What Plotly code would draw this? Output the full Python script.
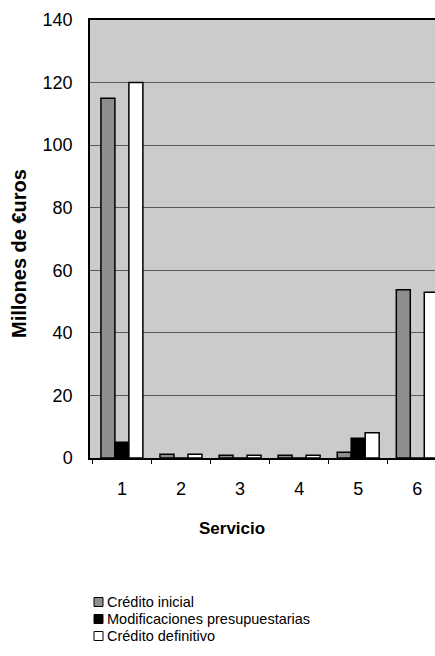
import plotly.graph_objects as go

categories = ["1", "2", "3", "4", "5", "6"]
credito_inicial = [115.0, 1.2, 0.9, 0.9, 1.8, 53.8]
modificaciones = [5.0, 0.0, 0.0, 0.0, 6.3, -0.8]
credito_definitivo = [120.0, 1.2, 0.9, 0.9, 8.1, 53.0]
series_names = ["Crédito inicial", "Modificaciones presupuestarias", "Crédito definitivo"]
y_ticks = [0, 20, 40, 60, 80, 100, 120, 140]

W, H = 435, 656
L, T, B = 90, 20, 198
PW = W - L
PH = H - T - B
FONT = "Arial, Liberation Sans, sans-serif"

fills = ["#8e8e8e", "#000000", "#ffffff"]
series = [credito_inicial, modificaciones, credito_definitivo]

fig = go.Figure()
for name, vals, col in zip(series_names, series, fills):
    fig.add_trace(go.Bar(
        x=categories, y=vals, name=name,
        marker=dict(color=col, line=dict(color="#000000", width=1.5)),
        showlegend=False, hoverinfo="skip",
    ))

def px_x(px):
    return (px - L) / PW

def px_y(py):
    return (H - B - py) / PH

shapes = []
annotations = []
leg_y = [602, 619, 636]
for name, col, yy in zip(series_names, fills, leg_y):
    shapes.append(dict(type="rect", xref="paper", yref="paper",
                       x0=px_x(94), x1=px_x(103), y0=px_y(yy + 4.5), y1=px_y(yy - 4.5),
                       fillcolor=col, line=dict(color="#000000", width=1)))
    annotations.append(dict(text=name, xref="paper", yref="paper",
                            x=px_x(105), y=px_y(yy), xanchor="left", yanchor="middle",
                            showarrow=False, font=dict(family=FONT, size=14.5, color="#000000")))

annotations.append(dict(text="<b>Millones de €uros</b>", xref="paper", yref="paper",
                        x=px_x(19), y=px_y(254), xanchor="center", yanchor="middle",
                        textangle=-90, showarrow=False,
                        font=dict(family=FONT, size=20, color="#000000")))
annotations.append(dict(text="<b>Servicio</b>", xref="paper", yref="paper",
                        x=px_x(232), y=px_y(528), xanchor="center", yanchor="middle",
                        showarrow=False,
                        font=dict(family=FONT, size=17, color="#000000")))

fig.update_layout(
    width=W, height=H,
    margin=dict(l=L, r=0, t=T, b=B, autoexpand=False),
    paper_bgcolor="#ffffff",
    plot_bgcolor="#cbcbcb",
    barmode="group", bargap=0.29, bargroupgap=0,
    showlegend=False,
    hovermode=False,
    shapes=shapes,
    annotations=annotations,
    font=dict(family=FONT, size=18, color="#000000"),
    xaxis=dict(
        type="category", range=[-0.54, 5.3],
        showline=True, linecolor="#000000", linewidth=1.5, mirror=True,
        ticks="outside", tickson="boundaries", ticklen=4, tickcolor="#000000",
        showgrid=False, zeroline=False,
        tickfont=dict(family=FONT, size=18, color="#000000"),
        ticklabelstandoff=14,
    ),
    yaxis=dict(
        range=[0, 140], tickvals=y_ticks,
        showline=True, linecolor="#000000", linewidth=1.5,
        showgrid=True, gridcolor="#5a5a5a", gridwidth=1,
        zeroline=False, ticks="",
        tickfont=dict(family=FONT, size=18, color="#000000"),
        ticklabelstandoff=12,
    ),
)

fig.write_html("out.html", config={"displayModeBar": False},
               post_script="document.body.style.margin='0';")
